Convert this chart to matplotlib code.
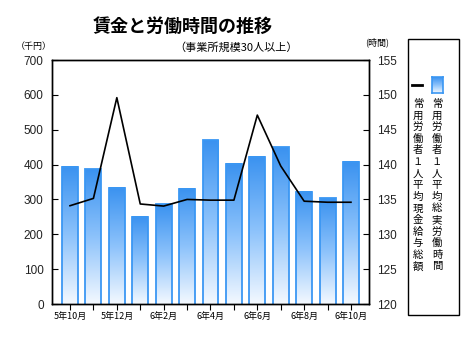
import numpy as np
import matplotlib
matplotlib.use("Agg")
import matplotlib.pyplot as plt
from matplotlib.colors import LinearSegmentedColormap
from matplotlib.patches import Rectangle

plt.rcParams['font.family'] = ['Noto Sans CJK JP', 'DejaVu Sans']

months = ["5年10月", "5年11月", "5年12月", "6年1月", "6年2月", "6年3月", "6年4月",
          "6年5月", "6年6月", "6年7月", "6年8月", "6年9月", "6年10月"]
# total hours worked (right axis)
hours = [139.7, 139.3, 136.7, 132.5, 134.3, 136.5, 143.5, 140.1, 141.1, 142.5, 136.1, 135.2, 140.4]
# total cash earnings, thousand yen (left axis)
wages = [282, 303, 592, 287, 281, 300, 298, 298, 542, 396, 295, 292, 292]

label_hours = "常用労働者１人平均総実労働時間"
label_wages = "常用労働者１人平均現金給与総額"

blue = "#3b97f3"
cmap = LinearSegmentedColormap.from_list("barfade", ["#f4f9ff", "#8cc2fb", "#3a92f0"])

fig = plt.figure(figsize=(4.7, 3.45), dpi=100)
ax = fig.add_axes([0.1106, 0.1188, 0.6745, 0.7072])
ax2 = ax.twinx()
x = np.arange(len(months))

# bars (hours) on the primary axes, ticks on the right
bars = ax.bar(x, hours, width=0.68, facecolor="none", edgecolor=blue, lw=1.3, zorder=2)
grad = np.linspace(0, 1, 256).reshape(-1, 1)
for r, h in zip(bars, hours):
    x0 = r.get_x()
    ax.imshow(grad, extent=[x0, x0 + r.get_width(), 120, h], aspect='auto',
              cmap=cmap, origin='lower', zorder=1)
ax.set_xlim(-0.77, 12.77)
ax.set_ylim(120, 155)
ax.set_yticks(np.arange(120, 156, 5))
ax.set_xticks(x)
ax.set_xticklabels([m if i % 2 == 0 else "" for i, m in enumerate(months)], fontsize=6.5)
ax.tick_params(axis='x', direction='out', length=4, pad=2)

# wages line on twin axes, ticks on the left
ax2.plot(x, wages, color='black', lw=1.2, zorder=3)
ax2.set_ylim(0, 700)
ax2.set_yticks(np.arange(0, 701, 100))
ax2.set_xlim(-0.77, 12.77)

ax.yaxis.tick_right()
ax2.yaxis.tick_left()
ax.tick_params(axis='y', direction='in', length=4, labelsize=8.5, pad=6)
ax2.tick_params(axis='y', direction='in', length=4, labelsize=8.5, pad=6)
for lab in ax.get_yticklabels() + ax2.get_yticklabels():
    lab.set_fontfamily('Liberation Sans')
    lab.set_color('#222222')

for a in (ax, ax2):
    for s in a.spines.values():
        s.set_linewidth(1.0)
        s.set_color('black')

fig.text(183 / 470, 1 - 26 / 345, "賃金と労働時間の推移", ha='center', va='center',
         fontsize=13, fontweight='bold')
fig.text(236 / 470, 1 - 47 / 345, "（事業所規模30人以上）", ha='center', va='center', fontsize=8)
fig.text(34 / 470, 1 - 46 / 345, "（千円）", ha='center', va='center', fontsize=6.5)
fig.text(377 / 470, 1 - 42 / 345, "(時間)", ha='center', va='center', fontsize=6.5)

# legend box
fig.patches.append(Rectangle((408 / 470, 1 - 315 / 345), 51 / 470, 276 / 345,
                             transform=fig.transFigure, facecolor='none',
                             edgecolor='black', lw=1.0))
lax = fig.add_axes([432 / 470, 1 - 93 / 345, 11 / 470, 16 / 345])
lax.imshow(grad, cmap=cmap, aspect='auto', origin='lower')
lax.set_xticks([])
lax.set_yticks([])
for s in lax.spines.values():
    s.set_color(blue)
    s.set_linewidth(1.2)
fig.add_artist(plt.Line2D([412 / 470, 422 / 470], [1 - 85 / 345, 1 - 85 / 345],
                          transform=fig.transFigure, color='black', lw=2))
# vertical legend labels, one character at a time
for cx, label in ((437, label_hours), (418, label_wages)):
    for i, ch in enumerate(label):
        fig.text(cx / 470, 1 - (104 + i * 11.6) / 345, ch, ha='center', va='center',
                 fontsize=7.5)

fig.savefig("out.png", dpi=100)
